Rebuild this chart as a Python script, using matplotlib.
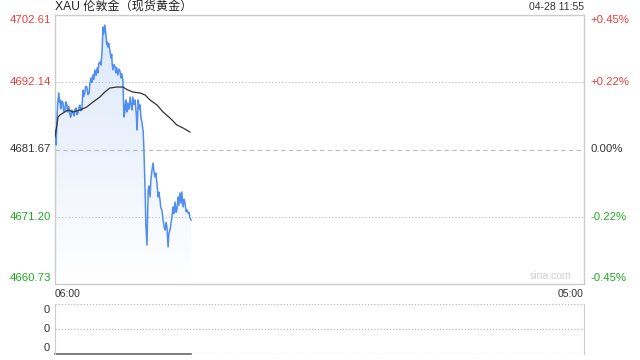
import numpy as np
import matplotlib
matplotlib.use('Agg')
import matplotlib.pyplot as plt

plt.rcParams['font.family'] = ['Liberation Sans', 'Noto Sans CJK SC', 'DejaVu Sans']

# minutes after 06:00 and price
t_price = [0, 2, 3, 5, 7, 10, 12, 13, 15, 16, 18, 21, 23, 26, 28, 31, 33, 34, 36, 39,
           41, 44, 47, 50, 52, 55, 57, 60, 62, 65, 67, 70, 73, 75, 78, 80, 83, 86, 89, 91,
           94, 96, 99, 101, 104, 107, 110, 112, 114, 117, 120, 123, 125, 127, 130, 133, 135, 136,
           138, 140, 143, 146, 148, 149, 151, 154, 157, 159, 161, 162, 164, 167, 170, 172,
           174, 177, 180, 182, 183, 185, 186, 188, 190, 193, 196, 199, 201, 203, 206, 209,
           212, 214, 217, 220, 222, 224, 227, 230, 232, 235, 237, 240, 243, 245, 248, 250,
           253, 256, 258, 261, 263, 266, 269, 271, 274, 276, 279, 281, 282, 285, 287, 290,
           292, 295, 297, 300, 303, 305, 308, 310, 313, 316, 318, 321, 323, 326, 329, 331,
           334, 337, 339, 342, 344, 347, 350, 352, 355]
price = [4684.71, 4683.50, 4682.37, 4686.26, 4688.90, 4690.47, 4689.00, 4689.38, 4688.00, 4688.13,
         4689.20, 4688.91, 4687.60, 4687.82, 4689.10, 4688.60, 4687.50, 4687.82, 4688.40, 4687.04,
         4686.70, 4687.82, 4687.30, 4686.89, 4687.90, 4688.13, 4687.10, 4687.35, 4688.20, 4688.60,
         4687.70, 4687.82, 4690.93, 4689.90, 4690.62, 4691.50, 4691.40, 4690.20, 4690.47, 4692.00,
         4692.80, 4692.10, 4693.27, 4692.60, 4694.05, 4693.20, 4694.36, 4693.58, 4695.00, 4695.29,
         4694.83, 4697.16, 4700.74, 4699.60, 4701.05, 4699.50, 4698.00, 4698.41,
         4697.63, 4698.20, 4697.16, 4695.92, 4696.50, 4695.14, 4694.05, 4694.90, 4694.51, 4693.58,
         4694.40, 4694.05, 4693.27, 4694.20, 4693.74, 4692.80,
         4693.50, 4692.49, 4686.73, 4687.50, 4688.60, 4689.38, 4688.00, 4687.51, 4688.91, 4687.90,
         4689.84, 4688.50, 4687.82, 4689.84, 4688.70, 4689.38,
         4687.20, 4684.71, 4689.38, 4688.00, 4688.60, 4686.73, 4685.80, 4684.50, 4681.59, 4675.36,
         4669.92, 4666.80, 4675.36, 4676.00, 4674.27, 4676.80,
         4678.48, 4679.57, 4678.30, 4677.39, 4678.00, 4676.45, 4674.27, 4675.00, 4673.81, 4672.60,
         4672.25, 4671.20, 4670.69, 4669.60, 4669.14, 4670.30,
         4669.60, 4666.49, 4668.60, 4669.14, 4670.40, 4671.16, 4672.72, 4671.70, 4673.50, 4671.90,
         4672.25, 4674.27, 4673.00, 4674.90, 4673.30, 4675.05,
         4672.72, 4673.90, 4673.34, 4672.00, 4672.25, 4671.78, 4671.90, 4671.00, 4670.69]

t_avg = [0, 5, 8, 13, 21, 34, 47, 65, 83, 99, 117, 130, 143, 162, 177, 190, 203, 222,
         235, 248, 266, 282, 300, 318, 334, 352]
avg = [4683.62, 4685.48, 4686.73, 4687.04, 4687.35, 4687.82, 4687.51, 4687.82, 4688.29,
       4689.06, 4689.84, 4690.62, 4691.24, 4691.40, 4691.40, 4690.93, 4690.62, 4690.47,
       4690.15, 4689.38, 4688.60, 4687.51, 4686.57, 4685.48, 4685.02, 4684.39]

prev_close = 4681.67
left_ticks = [4702.61, 4692.14, 4681.67, 4671.20, 4660.73]
right_ticks = ['+0.45%', '+0.22%', '0.00%', '-0.22%', '-0.45%']
tick_colors = ['#f03c3c', '#f03c3c', '#333333', '#22aa22', '#22aa22']
total_min = 1380

fig = plt.figure(figsize=(6.4, 3.6), dpi=100)
ax = fig.add_axes([55 / 640, 76 / 360, 529 / 640, 269 / 360])
ax.set_xlim(0, total_min)
ax.set_ylim(left_ticks[-1], left_ticks[0])

# gradient fill under the line
ymin, ymax = left_ticks[-1], left_ticks[0]
grad = np.linspace(0, 1, 256).reshape(-1, 1)
cmap = matplotlib.colors.LinearSegmentedColormap.from_list('g', ['#ffffff', '#dbe7fa'])
im = ax.imshow(grad, aspect='auto', cmap=cmap, origin='lower',
               extent=[0, t_price[-1], ymin, ymax], zorder=1)
poly = ax.fill_between(t_price, price, ymin, color='none', lw=0)
clip = poly.get_paths()[0]
im.set_clip_path(clip, transform=ax.transData)

ax.plot(t_price, price, color='#4f8ef0', lw=1.1, zorder=3)
ax.plot(t_avg, avg, color='#333333', lw=0.9, zorder=4)

for v in [left_ticks[1], left_ticks[3]]:
    ax.axhline(v, color='#bbbbbb', lw=0.8, ls=(0, (1, 2)), zorder=2)
ax.axhline(prev_close, color='#bbbbbb', lw=0.8, ls=(0, (4, 3)), zorder=2)

for s in ax.spines.values():
    s.set_color('#cccccc')
    s.set_linewidth(1)
ax.set_xticks([])
ax.set_yticks([])

# left and right labels
for i, (v, lab, c) in enumerate(zip(left_ticks, right_ticks, tick_colors)):
    off = 0
    if i == 0:
        off = -5 / 269 * (ymax - ymin)
    if i == 4:
        off = 6 / 269 * (ymax - ymin)
    ax.text(-4 / 529 * total_min, v + off, f'{v:.2f}', ha='right', va='center', color=c, fontsize=8.2)
    ax.text(1 + 6 / 529, (v + off - ymin) / (ymax - ymin), lab, ha='left', va='center',
            color=c, fontsize=8.2, transform=ax.transAxes)

ax.text(0, 1.01, 'XAU 伦敦金（现货黄金）', transform=ax.transAxes, ha='left', va='bottom',
        fontsize=8.7, color='#222222')
ax.text(1, 1.01, '04-28 11:55', transform=ax.transAxes, ha='right', va='bottom',
        fontsize=7.5, color='#333333')
ax.text(0.975, 0.01, 'sina.com', transform=ax.transAxes, ha='right', va='bottom',
        fontsize=7.5, color='#d0d0d0')
ax.text(0, -0.02, '06:00', transform=ax.transAxes, ha='left', va='top', fontsize=7.5, color='#333333')
ax.text(1, -0.02, '05:00', transform=ax.transAxes, ha='right', va='top', fontsize=7.5, color='#333333')

# volume panel
vol_t = [0, 355]
vol = [0, 0]
ax2 = fig.add_axes([55 / 640, 6 / 360, 529 / 640, 50 / 360])
ax2.set_xlim(0, total_min)
ax2.set_ylim(0, 1)
for s in ['left', 'right']:
    ax2.spines[s].set_color('#cccccc')
for s in ['top', 'bottom']:
    ax2.spines[s].set_visible(False)
for y in [0, 0.5, 1]:
    ax2.axhline(y, color='#bbbbbb', lw=0.9, ls=(0, (1, 1.5)))
ax2.plot(vol_t, vol, color='#666666', lw=1.2, clip_on=False)
ax2.set_xticks([])
ax2.set_yticks([])
for y in [0.88, 0.5, 0.12]:
    ax2.text(-5 / 529 * total_min, y, '0', ha='right', va='center', fontsize=8, color='#333333')

fig.savefig('out.png', dpi=100)
